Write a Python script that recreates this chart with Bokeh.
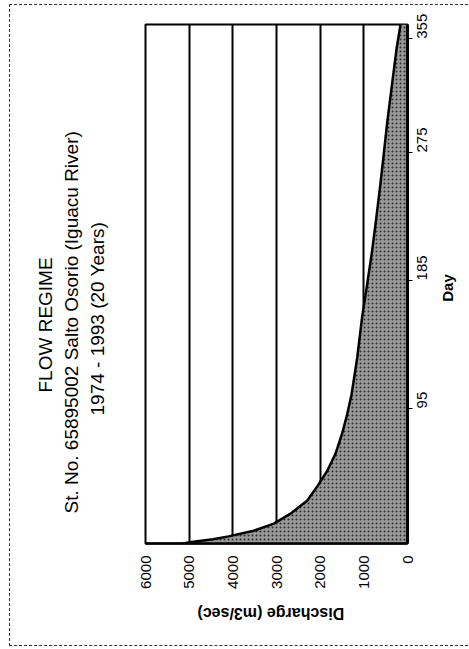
import math
from bokeh.plotting import figure
from bokeh.models import Range1d, FixedTicker, Title, LinearAxis
from bokeh.embed import file_html
from bokeh.resources import INLINE

# ---- data read from the (rotated) reference ----
days = [0, 1, 3, 5, 9, 14, 21, 30, 40, 51, 63, 77, 91, 105, 131, 159, 183,
        206, 230, 253, 272, 296, 324, 348, 362, 365]
discharge = [5150, 4950, 4450, 4100, 3520, 3060, 2680, 2300, 2070, 1840, 1650,
             1500, 1380, 1280, 1150, 1040, 920, 810, 710, 620, 550, 465, 350,
             250, 175, 160]
day_ticks = [95, 185, 275, 355]
discharge_ticks = [0, 1000, 2000, 3000, 4000, 5000, 6000]
grid_values = [1000, 2000, 3000, 4000, 5000]
title_lines = ["FLOW REGIME",
               "St. No. 65895002 Salto Osorio  (Iguacu River)",
               "1974 - 1993 (20 Years)"]
x_title = "Discharge (m3/sec)"
y_title = "Day"

FONT = "Liberation Sans"

# anchor positions (data units) for the rotated axis titles
X_TITLE_ANCHOR = 4810
Y_TITLE_ANCHOR = 170

p = figure(width=459, height=642,
           x_range=Range1d(6000, 0), y_range=Range1d(0, 365),
           output_backend="svg", toolbar_location=None,
           x_axis_location="below", y_axis_location="right",
           min_border_left=135, min_border_right=62,
           min_border_top=19, min_border_bottom=104)

p.styles = {"margin-left": "9px", "margin-top": "4px",
            "border-left": "1px dashed #333",
            "border-top": "1px dashed #333",
            "border-bottom": "1px dashed #333"}
p.background_fill_color = "white"
p.border_fill_color = "white"
p.outline_line_color = "black"
p.outline_line_width = 2

# grid lines (vertical, at discharge values)
p.xgrid.ticker = FixedTicker(ticks=grid_values)
p.xgrid.grid_line_color = "black"
p.xgrid.grid_line_width = 2
p.ygrid.visible = False

# filled area under the flow-duration curve
p.harea(y=days, x1=0, x2=discharge, fill_color="#999999",
        hatch_pattern="dot", hatch_color="black", hatch_scale=4,
        hatch_alpha=0.7)
p.line(x=discharge, y=days, line_color="black", line_width=2.5)

# bottom axis (discharge)
xa = p.xaxis[0]
xa.ticker = FixedTicker(ticks=discharge_ticks)
xa.major_label_orientation = math.pi / 2
xa.major_label_text_font = FONT
xa.major_label_text_font_size = "15px"
xa.major_label_text_color = "black"
xa.major_label_standoff = 12
xa.major_tick_out = 0
xa.major_tick_in = 0
xa.minor_tick_out = 0
xa.minor_tick_in = 0
xa.axis_line_color = "black"
xa.axis_line_width = 2.5

# right axis (day)
ya = p.yaxis[0]
ya.ticker = FixedTicker(ticks=day_ticks)
ya.major_label_orientation = math.pi / 2
ya.major_label_text_font = FONT
ya.major_label_text_font_size = "15px"
ya.major_label_text_color = "black"
ya.major_label_standoff = 10
ya.major_tick_out = 5
ya.major_tick_in = 0
ya.minor_tick_out = 0
ya.minor_tick_in = 0
ya.major_tick_line_color = "black"
ya.axis_line_color = "black"
ya.axis_line_width = 3


def title_axis(anchor, text, angle, size, standoff):
    ax = LinearAxis(ticker=FixedTicker(ticks=[anchor]),
                    major_label_overrides={anchor: text})
    ax.major_label_orientation = angle
    ax.major_label_text_font = FONT
    ax.major_label_text_font_size = size
    ax.major_label_text_font_style = "bold"
    ax.major_label_text_color = "black"
    ax.major_label_standoff = standoff
    ax.axis_line_color = None
    ax.major_tick_line_color = None
    ax.minor_tick_line_color = None
    ax.major_tick_out = 0
    ax.major_tick_in = 0
    ax.minor_tick_out = 0
    ax.minor_tick_in = 0
    return ax


# axis titles (rotated together with the whole chart)
p.add_layout(title_axis(X_TITLE_ANCHOR, x_title, math.pi, "16px", 22), "below")
p.add_layout(title_axis(Y_TITLE_ANCHOR, y_title, math.pi / 2, "15px", 12), "right")

# titles on the left side (innermost added first), spacer first
spacer = Title(text=" ", text_font=FONT, text_font_size="18px")
spacer.standoff = 14
p.add_layout(spacer, "left")
title_offsets = {title_lines[0]: 151, title_lines[1]: 30, title_lines[2]: 128}
for line in reversed(title_lines):
    t = Title(text=line, align="left", text_font=FONT,
              text_font_size="19px", text_font_style="normal",
              text_color="black", offset=title_offsets[line])
    t.standoff = 3
    p.add_layout(t, "left")

open("out.html", "w").write(file_html(p, INLINE))
